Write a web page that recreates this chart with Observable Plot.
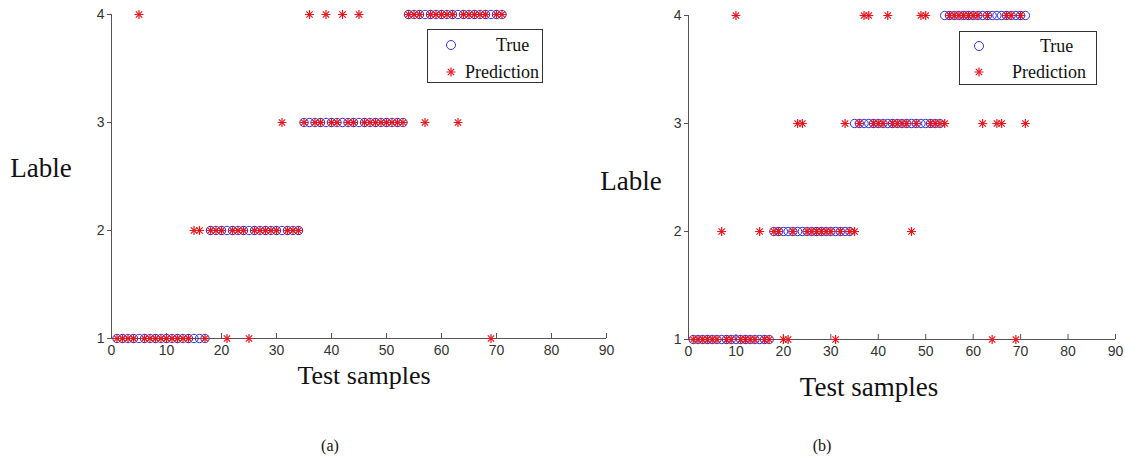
<!DOCTYPE html>
<html>
<head>
<meta charset="utf-8">
<script src="https://cdn.jsdelivr.net/npm/d3@7"></script>
<script src="https://cdn.jsdelivr.net/npm/@observablehq/plot@0.6"></script>
<style>
  html, body { margin: 0; padding: 0; background: #fff; }
  #root { position: relative; width: 1125px; height: 471px; overflow: hidden; background: #fff; }
  .pl { position: absolute; top: 0; }
  .pl text { font-size: 14px !important; font-family: 'Liberation Sans', Arial, sans-serif !important; fill: #333; }
  .lbl { position: absolute; transform: translate(-50%, -50%); font-family: "Liberation Serif", "Times New Roman", serif; color: #111; line-height: 1; white-space: nowrap; }
  .legend { position: absolute; border: 1px solid #333; background: #fff; box-sizing: border-box; }
  .legend svg { position: absolute; left: 0; top: 0; }
  .legend .lt { position: absolute; font-family: "Liberation Serif", "Times New Roman", serif; font-size: 18px; color: #111; line-height: 1; white-space: nowrap; transform: translateY(-50%); }
</style>
</head>
<body>
<div id="root"></div>
<script>
// ---- data ----
const samples = [1,2,3,4,5,6,7,8,9,10,11,12,13,14,15,16,17,18,19,20,21,22,23,24,25,26,27,28,29,30,31,32,33,34,35,36,37,38,39,40,41,42,43,44,45,46,47,48,49,50,51,52,53,54,55,56,57,58,59,60,61,62,63,64,65,66,67,68,69,70,71];
const trueLabels = [1,1,1,1,1,1,1,1,1,1,1,1,1,1,1,1,1, 2,2,2,2,2,2,2,2,2,2,2,2,2,2,2,2,2, 3,3,3,3,3,3,3,3,3,3,3,3,3,3,3,3,3,3,3, 4,4,4,4,4,4,4,4,4,4,4,4,4,4,4,4,4,4];
const predA = [1,1,1,1,4,1,1,1,1,1,1,1,1,1,2,2,1, 2,2,2,1,2,2,2,1,2,2,2,2,2,3,2,2,2, 3,4,3,3,4,3,3,4,3,3,4,3,3,3,3,3,3,3,3, 4,4,4,3,4,4,4,4,4,3,4,4,4,4,4,1,4,4];
const predB = [1,1,1,1,1,1,2,1,1,4,1,1,1,1,2,1,1, 2,2,1,1,2,3,3,2,2,2,2,2,2,1,2,3,2, 2,3,4,4,3,3,3,4,3,3,3,3,2,3,4,4,3,3,3, 3,4,4,4,4,4,4,4,3,4,1,3,3,4,4,1,4,3];
const xTicks = [0,10,20,30,40,50,60,70,80,90];
const yTicks = [1,2,3,4];
const seriesNames = ["True", "Prediction"];
const yLabel = "Lable";
const xLabel = "Test samples";
const panelTags = ["(a)", "(b)"];

const BLUE = "#3232d2";
const RED = "#e5161c";
const AXIS = "#555";
const TICKTEXT = "#333";
const SANS = "'Liberation Sans', Arial, sans-serif";

const root = document.getElementById("root");

function panel(pred, cfg) {
  const data = samples.map((s, i) => ({s, t: trueLabels[i], p: pred[i]}));
  const plotH = cfg.height - cfg.marginTop - cfg.marginBottom;
  const chart = Plot.plot({
    width: cfg.width,
    height: cfg.height,
    marginLeft: cfg.marginLeft,
    marginRight: cfg.marginRight,
    marginTop: cfg.marginTop,
    marginBottom: cfg.marginBottom,
    x: {domain: [0, 90]},
    y: {domain: [1, 4]},
    style: {fontFamily: SANS, fontSize: "14px", color: TICKTEXT, background: "transparent", overflow: "visible"},
    marks: [
      Plot.axisX({ticks: xTicks, tickSize: 0, tickPadding: 7, label: null, tickFormat: d => String(d), fontSize: 14, fill: TICKTEXT}),
      Plot.axisY({ticks: yTicks, tickSize: 4, tickPadding: 3, label: null, tickFormat: d => String(d), stroke: AXIS, fontSize: 14, fill: TICKTEXT}),
      Plot.tickX(xTicks, {x: d => d, insetTop: plotH - 5, stroke: AXIS}),
      Plot.ruleY([1], {stroke: AXIS}),
      Plot.ruleX([0], {stroke: AXIS}),
      Plot.dot(data, {x: "s", y: "t", symbol: "circle", r: 4.2, stroke: BLUE, fill: "none", strokeWidth: 1}),
      Plot.dot(data, {x: "s", y: "p", symbol: "plus", r: 3, stroke: RED, strokeWidth: 1.2}),
      Plot.dot(data, {x: "s", y: "p", symbol: "times", r: 3, stroke: RED, strokeWidth: 1.2})
    ]
  });
  chart.classList.add("pl");
  chart.style.left = cfg.left + "px";
  chart.style.top = cfg.top + "px";
  root.appendChild(chart);
}

panel(predA, {left: 0, top: 0, width: 620, height: 362, marginLeft: 111, marginRight: 14, marginTop: 14, marginBottom: 24});
panel(predB, {left: 620, top: 0, width: 505, height: 363, marginLeft: 68, marginRight: 10, marginTop: 15, marginBottom: 24});

function label(text, cx, cy, size) {
  const d = document.createElement("div");
  d.className = "lbl";
  d.textContent = text;
  d.style.left = cx + "px";
  d.style.top = cy + "px";
  d.style.fontSize = size + "px";
  root.appendChild(d);
}
label(yLabel, 41, 168, 27);
label(yLabel, 631, 181, 27);
label(xLabel, 364, 376, 26);
label(xLabel, 869, 387, 27);
label(panelTags[0], 330, 446, 16);
label(panelTags[1], 822, 446, 16);

function legend(cfg) {
  const box = document.createElement("div");
  box.className = "legend";
  box.style.left = cfg.left + "px";
  box.style.top = cfg.top + "px";
  box.style.width = cfg.width + "px";
  box.style.height = cfg.height + "px";
  const svg = d3.create("svg").attr("width", cfg.width).attr("height", cfg.height);
  svg.append("circle").attr("cx", cfg.mx).attr("cy", cfg.y1).attr("r", 4.5).attr("fill", "none").attr("stroke", BLUE);
  const g = svg.append("g").attr("transform", `translate(${cfg.mx},${cfg.y2})`).attr("stroke", RED).attr("stroke-width", 1.2).attr("fill", "none");
  g.append("path").attr("d", d3.symbol(d3.symbolPlus, Math.PI * 3 * 3)());
  g.append("path").attr("d", d3.symbol(d3.symbolTimes, Math.PI * 3 * 3)());
  box.appendChild(svg.node());
  const t1 = document.createElement("div");
  t1.className = "lt"; t1.textContent = seriesNames[0];
  t1.style.left = cfg.t1x + "px"; t1.style.top = cfg.y1 + "px";
  const t2 = document.createElement("div");
  t2.className = "lt"; t2.textContent = seriesNames[1];
  t2.style.left = cfg.t2x + "px"; t2.style.top = cfg.y2 + "px";
  box.appendChild(t1); box.appendChild(t2);
  root.appendChild(box);
}
legend({left: 427, top: 29, width: 116, height: 54, mx: 23, y1: 15, y2: 42, t1x: 68, t2x: 37});
legend({left: 959, top: 31, width: 138, height: 54, mx: 19, y1: 14, y2: 40, t1x: 80, t2x: 52});
</script>
</body>
</html>
